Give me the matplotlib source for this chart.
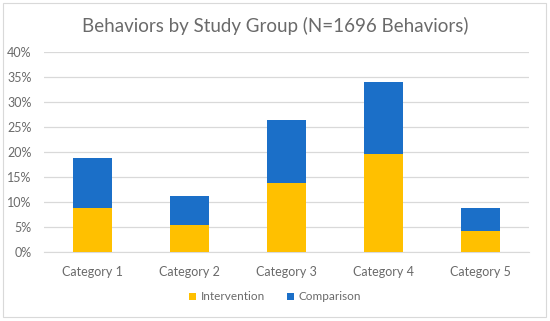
import matplotlib
matplotlib.use("Agg")
import matplotlib.pyplot as plt
from matplotlib.patches import Rectangle
from matplotlib.ticker import FuncFormatter

categories = ["Category 1", "Category 2", "Category 3", "Category 4", "Category 5"]
intervention = [8.8, 5.5, 13.8, 19.6, 4.2]
comparison = [10.1, 5.8, 12.6, 14.5, 4.7]
yticks = [0, 5, 10, 15, 20, 25, 30, 35, 40]

plt.rcParams['font.family'] = ['Lato', 'DejaVu Sans']

fig = plt.figure(figsize=(5.5, 3.21), dpi=100)
fig.patches.append(Rectangle((3/550, 4/321), 543/550, 314/321, transform=fig.transFigure,
                             fill=False, edgecolor='#D9D9D9', linewidth=0.8))
ax = fig.add_axes([44/550, 1 - 252.3/321, 485/550, 200/321])

x = list(range(len(categories)))
ax.bar(x, intervention, width=0.4, color='#FFC000', label='Intervention', zorder=3)
ax.bar(x, comparison, width=0.4, bottom=intervention, color='#1B6FC8', label='Comparison', zorder=3)

ax.set_ylim(0, 40)
ax.set_xlim(-0.5, len(categories) - 0.5)
ax.set_yticks(yticks)
ax.yaxis.set_major_formatter(FuncFormatter(lambda v, p: f"{int(v)}%"))
ax.set_xticks(x)
ax.set_xticklabels(categories)
ax.grid(axis='y', color='#D9D9D9', linewidth=0.9, zorder=0)
for s in ['top', 'right', 'left']:
    ax.spines[s].set_visible(False)
ax.spines['bottom'].set_color('#D9D9D9')
ax.tick_params(axis='both', length=0, colors='#6A6A6A', labelsize=9)
ax.tick_params(axis='x', pad=10)
ax.tick_params(axis='y', pad=9)

fig.text(0.5, 1 - 26/321, "Behaviors by Study Group (N=1696 Behaviors)", ha='center', va='center',
         fontsize=13.5, color='#6A6A6A')

fig.legend(loc='center', bbox_to_anchor=(0.5, 1 - 297/321), ncol=2, frameon=False,
           fontsize=8.5, labelcolor='#6A6A6A', handlelength=0.6, handleheight=0.6,
           handletextpad=0.4, columnspacing=1.8)

fig.savefig("out.png", dpi=100)
